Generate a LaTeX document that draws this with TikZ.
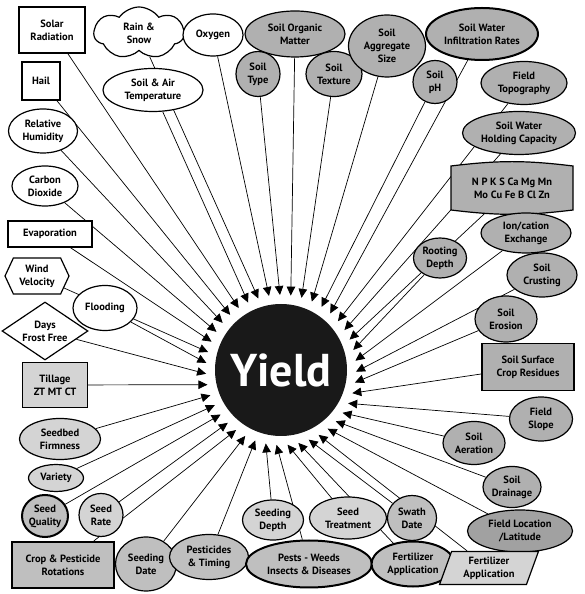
\documentclass[tikz,border=0pt]{standalone}
\usepackage{fontspec}
\setmainfont{PT Sans}
\usepackage{tikz}
\usetikzlibrary{arrows.meta,calc,shapes.geometric,shapes.symbols,backgrounds}

\definecolor{soilfill}{gray}{0.69}
\definecolor{lightfill}{gray}{0.83}
\definecolor{midfill}{gray}{0.75}
\definecolor{darkfill}{gray}{0.63}

\begin{document}
\begin{tikzpicture}[
  x=1pt, y=1pt,
  font=\fontsize{10.5}{13}\selectfont\bfseries,
  base/.style={draw, line width=1.2pt, align=center, inner sep=0pt},
  sz/.style 2 args={minimum width=#1, minimum height=#2},
  climate/.style={base, ellipse, fill=white},
  climatebox/.style={base, rectangle, fill=white},
  soil/.style={base, ellipse, fill=soilfill},
  soilbox/.style={base, rectangle, fill=soilfill},
  crop/.style={base, ellipse, fill=lightfill},
  cropbox/.style={base, rectangle, fill=lightfill},
  manage/.style={base, ellipse, fill=midfill},
  managebox/.style={base, rectangle, fill=midfill},
  heavy/.style={line width=2pt},
  plain/.style={align=center, inner sep=0pt},
  feed/.style={-{Triangle[length=9pt, width=8.5pt]}, line width=0.7pt},
  hub/.style={circle, fill=black!90, text=white, minimum size=132pt, font=\fontsize{46}{46}\selectfont\bfseries}
]
  \useasboundingbox (0,0) rectangle (585,594);

  \node[hub] (yield) at (281,224) {Yield};

  % weather
  \node[climatebox, sz={66}{46}] (solar) at (52,564) {Solar\\Radiation};
  \node[base, cloud, cloud puffs=7, cloud puff arc=110, aspect=1.8, fill=white, sz={90}{52}] (rain) at (139,561) {Rain \&\\Snow};
  \node[climate, sz={60}{42}] (oxygen) at (213,559) {Oxygen};
  \node[climate, sz={100}{43}] (temp) at (153,504) {Soil \& Air\\Temperature};
  \node[climatebox, sz={38}{38}] (hail) at (41,513) {Hail};
  \node[climate, sz={69}{44}] (humidity) at (43,463) {Relative\\Humidity};
  \node[climate, sz={66}{40}] (co2) at (45,408) {Carbon\\Dioxide};
  \node[climatebox, sz={84}{26}] (evaporation) at (50,360) {Evaporation};
  \node[base, signal, signal to=west and east, signal pointer angle=130, fill=white, sz={64}{36}] (wind) at (37,318) {Wind\\Velocity};
  \node[climate, sz={64}{45}] (flooding) at (105,286) {Flooding};
  \node[base, diamond, aspect=1.5, fill=white, sz={86}{58}] (frost) at (45,263) {Days\\Frost Free};

  % soil
  \node[soil, sz={100}{46}] (organic) at (295,560) {Soil Organic\\Matter};
  \node[soil, sz={44}{45}] (type) at (258,520) {Soil\\Type};
  \node[soil, sz={56}{45}] (texture) at (334,520) {Soil\\Texture};
  \node[soil, sz={77}{62}] (aggregate) at (387,548) {Soil\\Aggregate\\Size};
  \node[soil, heavy, sz={112}{52}] (infiltration) at (482,560) {Soil Water\\Infiltration Rates};
  \node[soil, sz={44}{43}] (ph) at (435,512) {Soil\\pH};
  \node[soil, sz={86}{43}] (topography) at (524,511) {Field\\Topography};
  \node[soil, sz={113}{43}] (holding) at (519,461) {Soil Water\\Holding Capacity};
  \coordinate (npkc) at (512,406);
  \draw[base, fill=soilfill] ($(npkc)+(-61,-22)$) to[bend right=7] ($(npkc)+(61,-22)$)
    -- ($(npkc)+(61,22)$) to[bend right=7] ($(npkc)+(-61,22)$) -- cycle;
  \node[plain, sz={122}{44}] (npk) at (npkc) {N P K S Ca Mg Mn\\Mo Cu Fe B Cl Zn};
  \node[soil, sz={90}{40}] (ion) at (526,361) {Ion/cation\\Exchange};
  \node[soil, sz={53}{40}] (rooting) at (440,336) {Rooting\\Depth};
  \node[soil, sz={70}{44}] (crusting) at (542,319) {Soil\\Crusting};
  \node[soil, sz={62}{46}] (erosion) at (506,275) {Soil\\Erosion};
  \node[soilbox, sz={92}{47}] (residues) at (528,227) {Soil Surface\\Crop Residues};
  \node[soil, sz={63}{44}] (slope) at (541,175) {Field\\Slope};
  \node[soil, sz={62}{43}] (aeration) at (474,151) {Soil\\Aeration};
  \node[soil, sz={58}{41}] (drainage) at (512,107) {Soil\\Drainage};
  \node[base, ellipse, fill=darkfill, sz={105}{42}] (location) at (520,63) {Field Location\\/Latitude};

  % crop and management
  \node[cropbox, sz={65}{45}] (tillage) at (55,209) {Tillage\\ZT MT CT};
  \node[crop, sz={81}{41}] (seedbed) at (60,155) {Seedbed\\Firmness};
  \node[crop, sz={55}{27}] (variety) at (56,116) {Variety};
  \node[manage, heavy, sz={46}{42}] (quality) at (45,78) {Seed\\Quality};
  \node[crop, sz={44}{43}] (rate) at (101,79) {Seed\\Rate};
  \node[managebox, heavy, sz={102}{46}] (rotations) at (63,29) {Crop \& Pesticide\\Rotations};
  \node[manage, sz={61}{54}] (seedingdate) at (146,30) {Seeding\\Date};
  \node[manage, sz={79}{45}] (pesticides) at (209,37) {Pesticides\\\& Timing};
  \node[crop, sz={61}{40}] (depth) at (273,74) {Seeding\\Depth};
  \node[manage, heavy, sz={126}{47}] (pests) at (309,30) {Pests - Weeds\\Insects \& Diseases};
  \node[crop, sz={77}{42}] (treatment) at (348,76) {Seed\\Treatment};
  \node[manage, sz={49}{45}] (swath) at (412,76) {Swath\\Date};
  \node[manage, heavy, sz={83}{45}] (fertilizer) at (413,30) {Fertilizer\\Application};
  \node[base, trapezium, trapezium left angle=70, trapezium right angle=110, fill=lightfill, sz={40}{33}] (fertbox) at (489,26) {Fertilizer\\Application};

  \begin{scope}[on background layer]
    \foreach \n/\a in {residues/342, erosion/350.4, crusting/358.7, ion/7.1, rooting/15.5,
      npk/23.9, holding/32.2, topography/40.6, infiltration/49, ph/57.3, aggregate/65.7,
      texture/74.1, organic/82.5, type/90.8, oxygen/99.2, rain/107.6, temp/116, solar/124.3,
      hail/132.7, humidity/141.1, co2/149.4, evaporation/157.8, wind/166.2, flooding/174.6,
      frost/182.9, tillage/191.3, seedbed/199.7, variety/208, quality/216.4, rate/224.8,
      rotations/233.2, seedingdate/241.5, pesticides/249.9, depth/258.3, pests/266.6,
      treatment/275, fertilizer/283.4, swath/291.7, fertbox/300.1, location/308.5,
      drainage/316.9, aeration/325.2, slope/333.6}
    {
      \coordinate (tip-\n) at ($(yield.center)+(\a:75)$);
      \draw[feed] (\n) -- (tip-\n);
    }
  \end{scope}
\end{tikzpicture}
\end{document}
